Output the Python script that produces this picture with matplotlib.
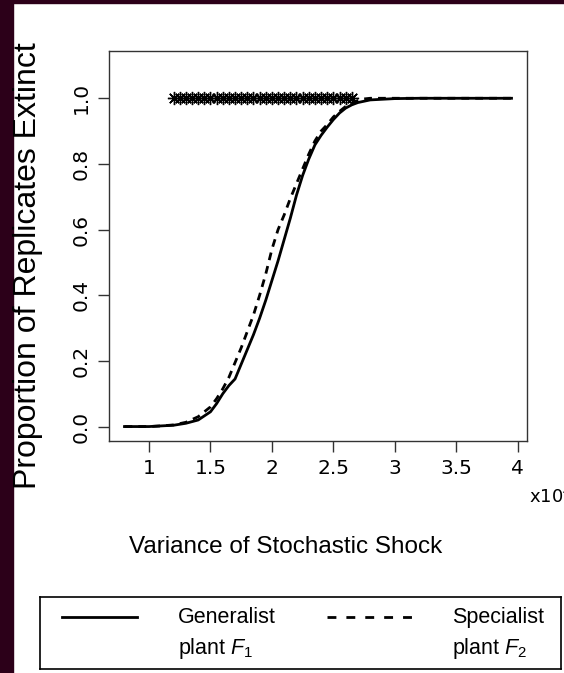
import matplotlib
matplotlib.use('Agg')
import matplotlib.pyplot as plt
from matplotlib.patches import Rectangle
from matplotlib.lines import Line2D

# shock variance (x10^4) and proportion of replicates extinct
shock = [0.8, 0.9, 1.0, 1.1, 1.2, 1.3, 1.4, 1.5, 1.55, 1.6, 1.65, 1.7, 1.75,
         1.8, 1.85, 1.9, 1.95, 2.0, 2.05, 2.1, 2.15, 2.2, 2.25, 2.3, 2.35,
         2.4, 2.45, 2.5, 2.55, 2.6, 2.65, 2.7, 2.75, 2.8, 2.9, 3.0, 3.2, 3.95]
generalist = [0.0, 0.0, 0.0, 0.002, 0.004, 0.01, 0.02, 0.045, 0.07, 0.10,
              0.125, 0.145, 0.19, 0.235, 0.28, 0.33, 0.385, 0.445, 0.505,
              0.57, 0.635, 0.705, 0.765, 0.815, 0.858, 0.887, 0.912, 0.935,
              0.955, 0.97, 0.98, 0.987, 0.991, 0.995, 0.997, 0.999, 1.0, 1.0]
specialist = [0.0, 0.0, 0.0, 0.002, 0.005, 0.013, 0.03, 0.06, 0.085, 0.115,
              0.15, 0.195, 0.24, 0.29, 0.34, 0.40, 0.465, 0.54, 0.60, 0.645,
              0.695, 0.74, 0.785, 0.83, 0.87, 0.90, 0.92, 0.943, 0.96, 0.975,
              0.985, 0.993, 0.998, 1.0, 1.0, 1.0, 1.0, 1.0]

# significant differences marked along the top
sig_x = [1.20, 1.25, 1.30, 1.35, 1.40, 1.45, 1.50, 1.55, 1.60, 1.65, 1.70,
         1.75, 1.80, 1.85, 1.90, 1.95, 2.00, 2.05, 2.10, 2.15, 2.20, 2.25,
         2.30, 2.35, 2.40, 2.45, 2.50, 2.55, 2.60, 2.65]
sig_y = [1.0] * len(sig_x)

xticks = [1, 1.5, 2, 2.5, 3, 3.5, 4]
xticklabels = ['1', '1.5', '2', '2.5', '3', '3.5', '4']
yticks = [0.0, 0.2, 0.4, 0.6, 0.8, 1.0]
yticklabels = ['0.0', '0.2', '0.4', '0.6', '0.8', '1.0']

plt.rcParams['mathtext.fontset'] = 'custom'
plt.rcParams['mathtext.rm'] = 'Liberation Sans'
plt.rcParams['mathtext.it'] = 'Liberation Sans:italic'

W, H = 564, 673
fig = plt.figure(figsize=(W / 100, H / 100), dpi=100)
fig.patch.set_facecolor('white')
# dark border strips (left and top)
fig.patches.append(Rectangle((0, 0), 13 / W, 1, transform=fig.transFigure,
                             color='#2c0019', zorder=0))
fig.patches.append(Rectangle((0, 1 - 3 / H), 1, 3 / H, transform=fig.transFigure,
                             color='#2c0019', zorder=0))

ax = fig.add_axes([109 / W, 1 - 441 / H, (527 - 109) / W, (441 - 51) / H])
ax.plot(shock, generalist, color='black', lw=2.0, solid_joinstyle='round')
ax.plot(shock, specialist, color='black', lw=2.0, linestyle=(0, (2.8, 2.2)))
ax.plot(sig_x, sig_y, linestyle='none', marker=(8, 2, 0), ms=9.5, mew=1.0,
        color='black')

ax.set_xlim(0.674, 4.076)
ax.set_ylim(-0.044, 1.144)
ax.set_xticks(xticks)
ax.set_xticklabels(xticklabels, fontsize=14.5, family='DejaVu Sans')
ax.set_yticks(yticks)
ax.set_yticklabels(yticklabels, fontsize=14.5, family='DejaVu Sans',
                   rotation=90, va='center')
ax.tick_params(length=8, width=1, color='#333333', pad=5)
for s in ax.spines.values():
    s.set_linewidth(1)
    s.set_color('#333333')

fig.text(529 / W, 1 - 497 / H, r'x10$^4$', fontsize=13, family='DejaVu Sans',
         ha='left', va='center')

fig.text(286 / W, 1 - 547 / H, 'Variance of Stochastic Shock', fontsize=17.5,
         family='Liberation Sans', ha='center', va='center')
fig.text(28 / W, 1 - 266 / H, 'Proportion of Replicates Extinct', fontsize=23,
         family='Liberation Sans', ha='center', va='center', rotation=90)

# legend drawn as a separate box below
lax = fig.add_axes([40 / W, 1 - 669 / H, (561 - 40) / W, (669 - 597) / H])
lax.set_xlim(0, 1)
lax.set_ylim(0, 1)
lax.set_xticks([])
lax.set_yticks([])
for s in lax.spines.values():
    s.set_linewidth(1.2)
lax.add_line(Line2D([22 / 521, 97 / 521], [0.72, 0.72], color='black', lw=2.0))
lax.add_line(Line2D([287 / 521, 372 / 521], [0.72, 0.72], color='black', lw=2.0,
                    linestyle=(0, (3.2, 3.6))))
lax.text(138 / 521, 0.72, 'Generalist', fontsize=15.5, family='Liberation Sans',
         va='center')
lax.text(138 / 521, 0.28, r'plant $\mathit{F_1}$', fontsize=15.5,
         family='Liberation Sans', va='center')
lax.text(412 / 521, 0.72, 'Specialist', fontsize=15.5, family='Liberation Sans',
         va='center')
lax.text(412 / 521, 0.28, r'plant $\mathit{F_2}$', fontsize=15.5,
         family='Liberation Sans', va='center')

fig.savefig('out.png', dpi=100)
